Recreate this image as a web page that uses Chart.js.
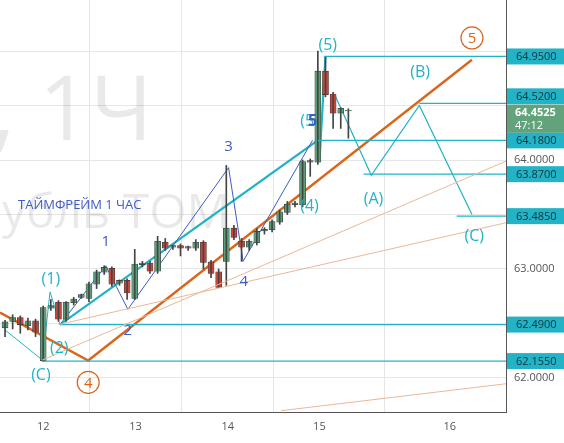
<!DOCTYPE html>
<html><head><meta charset="utf-8">
<script src="https://cdn.jsdelivr.net/npm/chart.js@4/dist/chart.umd.min.js"></script>
<style>html,body{margin:0;padding:0;background:#fff}#w{width:564px;height:443px}</style>
</head><body><div id="w"><canvas id="c"></canvas></div>
<script>
// candle index, open, high, low, close
const idx = [0,1,2,3,4,5,6,7,8,9,10,11,12,13,14,15,16,17,18,19,20,21,22,23,24,25,26,27,28,29,30,31,32,33,34,35,36,37,38,39,40,41,42,43,44,45];
const opens  = [62.46,62.52,62.55,62.48,62.52,62.16,62.64,62.69,62.54,62.69,62.74,62.73,62.86,62.97,63.00,62.87,62.89,62.73,63.04,63.05,62.98,63.24,63.20,63.21,63.19,63.19,63.24,63.06,62.97,63.07,63.37,63.25,63.20,63.24,63.35,63.36,63.43,63.52,63.59,63.59,63.98,63.98,64.81,64.60,64.43,64.45];
const highs  = [62.53,62.58,62.57,62.55,62.54,62.66,62.72,62.71,62.70,62.74,62.77,62.88,62.99,63.03,63.02,62.90,62.91,63.18,63.07,63.07,63.30,63.28,63.22,63.23,63.21,63.27,63.26,63.08,63.00,63.95,63.40,63.28,63.27,63.37,63.38,63.45,63.54,63.62,63.62,64.00,64.01,65.00,64.95,64.62,64.48,64.47];
const lows   = [62.38,62.45,62.41,62.44,62.38,62.15,62.62,62.52,62.52,62.67,62.73,62.70,62.82,62.95,62.84,62.85,62.72,62.72,63.02,62.96,62.96,63.17,63.18,63.12,63.17,63.17,63.00,62.92,62.83,62.85,63.27,63.07,63.17,63.22,63.32,63.34,63.41,63.50,63.57,63.57,63.85,63.96,64.58,64.29,64.29,64.20];
const closes = [62.51,62.55,62.49,62.52,62.42,62.64,62.66,62.54,62.69,62.72,62.76,62.86,62.97,63.01,62.86,62.89,62.78,63.04,63.05,62.98,63.25,63.19,63.21,63.19,63.20,63.24,63.06,62.96,62.83,63.37,63.29,63.20,63.25,63.34,63.36,63.43,63.52,63.59,63.60,63.98,63.99,64.81,64.60,64.43,64.47,64.45];
const dayTicks = [5.0,17.1,29.2,41.2,58.3];
const dayLabels = ['12','13','14','15','16'];
const priceTicks = [62,62.5,63,63.5,64,64.5,65];
const levels = [64.95,64.52,64.18,63.87,63.485,62.49,62.155];
const levelStart = [41.8,54.3,41.0,47.0,59.2,7.2,4.9];
const orangeWave = [[-0.66,62.60],[10.9,62.16],[61.2,64.92]];
const tealThick = [[7.2,62.49],[41.0,64.18],[41.2,63.98],[42.0,64.95]];
const tealThin = [[0,62.44],[4.9,62.165],[5.9,62.79],[7.2,62.49]];
const tealABC = [[43.2,64.60],[48.0,63.86],[54.3,64.50],[61.2,63.50]];
const blueWave = [[7.2,62.49],[13.2,63.03],[16.1,62.63],[29.3,63.93],[31.2,63.07],[40.3,64.18]];
const fanA = [[4.9,62.165],[66,64.0]];
const fanB = [[7.0,62.49],[66,63.43]];
const fanC = [[36.2,61.70],[66,61.95]];
const tealLabels = [['(1)',6.0,62.9],['(2)',7.1,62.27],['(C)',4.7,62.02],['(5)',42.3,65.05],['(5',39.6,64.35],['(4)',39.9,63.57],['(A)',48.3,63.64],['(B)',54.4,64.80],['(C)',61.5,63.3]];
const blueLabels = [['1',13.2,63.25],['2',16.1,62.43],['3',29.3,64.12],['4',31.3,62.88],['5',40.3,64.35]];
const orangeCircles = [['4',10.9,61.96],['5',61.2,65.12]];
const lastPrice = 64.4525, timer = '47:12';

const toXY = a => a.map(p => ({x:p[0], y:p[1]}));
const up = idx.map(i => closes[i] >= opens[i]);
const bodyData = idx.map(i => ({x:i, y:[Math.min(opens[i],closes[i]), Math.max(opens[i],closes[i])+0.005]}));
const wickData = idx.map(i => ({x:i, y:[lows[i], highs[i]]}));
const G='#5a9e78', R='#c9463a', TEAL='#22b3c6', OR='#d9661c', BL='#3d5cc4';

const line = (d,c,w,extra) => Object.assign({type:'line', data:toXY(d), borderColor:c, borderWidth:w, pointRadius:0, fill:false, tension:0}, extra||{});
const datasets = [
  line(fanA,'#eab898',1), line(fanB,'#eab898',1), line(fanC,'#eab898',1),
];
levels.forEach((v,k)=>datasets.push(line([[levelStart[k],v],[66,v]],TEAL,1.2)));
datasets.push({type:'bar', data:wickData, backgroundColor:'#444', barThickness:1, grouped:false});
datasets.push({type:'bar', data:bodyData, backgroundColor:idx.map(i=>up[i]?G:R), borderColor:'#333', borderWidth:0.6, borderSkipped:false, barThickness:6, grouped:false});
datasets.push(line(tealThin,TEAL,1));
datasets.push(line(blueWave,BL,1));
datasets.push(line(tealThick,TEAL,2.2));
datasets.push(line(tealABC,TEAL,1.2));
datasets.push(line(orangeWave,OR,2.4));

const overlay = {
  id:'overlay',
  beforeDatasetsDraw(ch){
    const c=ch.ctx, a=ch.chartArea;
    c.save(); c.beginPath(); c.rect(a.left,a.top,a.right-a.left,a.bottom-a.top); c.clip();
    c.fillStyle='rgba(0,0,0,0.085)';
    c.font='90px "Open Sans", sans-serif'; c.textBaseline='alphabetic';
    c.fillText(', 1Ч', -8, 140);
    c.font='48px "Open Sans", sans-serif';
    c.fillText('убль ТОМ', 2, 228);
    c.restore();
  },
  afterDatasetsDraw(ch){
    const c=ch.ctx, xs=ch.scales.x, ys=ch.scales.y, a=ch.chartArea;
    c.save();
    c.textAlign='center'; c.textBaseline='middle';
    c.font='16px "Open Sans", sans-serif'; c.fillStyle=TEAL;
    tealLabels.forEach(l=>c.fillText(l[0], xs.getPixelForValue(l[1]), ys.getPixelForValue(l[2])));
    c.font='bold 16px "Open Sans", sans-serif'; c.fillStyle=BL;
    blueLabels.slice(4).forEach(l=>c.fillText(l[0], xs.getPixelForValue(l[1]), ys.getPixelForValue(l[2])));
    c.font='15px "Open Sans", sans-serif';
    blueLabels.slice(0,4).forEach(l=>c.fillText(l[0], xs.getPixelForValue(l[1]), ys.getPixelForValue(l[2])));
    orangeCircles.forEach(l=>{
      const x=xs.getPixelForValue(l[1]), y=ys.getPixelForValue(l[2]);
      c.strokeStyle=OR; c.lineWidth=1.2; c.beginPath(); c.arc(x,y,11,0,Math.PI*2); c.stroke();
      c.fillStyle=OR; c.font='15px "Open Sans", sans-serif'; c.fillText(l[0],x,y+1);
    });
    c.fillStyle=BL; c.textAlign='left'; c.font='13px "Open Sans", sans-serif';
    c.fillText('ТАЙМФРЕЙМ 1 ЧАС', 18, 205);
    c.font='11px "Open Sans", sans-serif'; c.textAlign='left';
    levels.forEach(v=>{
      let y=ys.getPixelForValue(v);
      if (v===64.52) y-=7;
      c.fillStyle=TEAL; c.fillRect(a.right+1,y-8,58,16);
      c.fillStyle='#13343a'; c.fillText(v.toFixed(4), a.right+10, y+0.5);
    });
    const y=ys.getPixelForValue(lastPrice)+7;
    c.fillStyle='#62a37c'; c.fillRect(a.right+1,y-13,58,28);
    c.fillStyle='#fff'; c.font='bold 11px "Open Sans", sans-serif'; c.fillText(lastPrice.toFixed(4), a.right+9, y-5);
    c.font='11px "Open Sans", sans-serif'; c.fillText(timer, a.right+9, y+8);
    c.restore();
  }
};

new Chart(document.getElementById('c'), {
  type:'bar',
  data:{datasets},
  options:{
    responsive:true, maintainAspectRatio:false, animation:false,
    layout:{padding:0},
    plugins:{legend:{display:false}, tooltip:{enabled:false}},
    scales:{
      x:{type:'linear', min:-0.66, max:65.66, offset:false,
        afterBuildTicks:s=>{s.ticks=dayTicks.map(v=>({value:v}));},
        afterFit:s=>{s.height=31; s.paddingLeft=0; s.paddingRight=0;},
        ticks:{callback:(v)=>{const k=dayTicks.indexOf(v);return k>=0?dayLabels[k]:'';}, color:'#555', font:{size:11,family:'"Open Sans", sans-serif'}, maxRotation:0, autoSkip:false, padding:8},
        grid:{color:'#e6e6e6', drawTicks:false}, border:{color:'#555'}},
      y:{position:'right', min:61.688, max:65.468,
        afterBuildTicks:s=>{s.ticks=priceTicks.map(v=>({value:v}));},
        afterFit:s=>{s.width=58; s.paddingTop=0; s.paddingBottom=0;},
        ticks:{callback:v=>(Number.isInteger(v)&&v<65)?v.toFixed(4):'', color:'#555', font:{size:11,family:'"Open Sans", sans-serif'}, padding:8},
        grid:{color:'#e6e6e6', drawTicks:false}, border:{color:'#555'}}
    }
  },
  plugins:[overlay]
});
</script></body></html>
